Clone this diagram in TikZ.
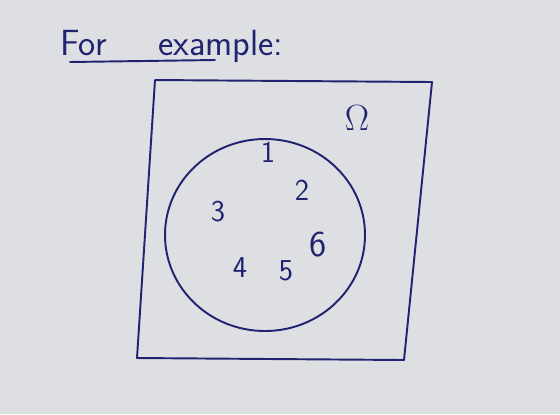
\documentclass[tikz,border=0pt]{standalone}
\usepackage{amsmath}
\usetikzlibrary{positioning}

\definecolor{board}{RGB}{221,223,227}
\definecolor{ink}{RGB}{32,36,112}

\begin{document}
\begin{tikzpicture}[
    x=0.02cm, y=-0.02cm,
    % Estilos de trazos y textos
    pen/.style={draw=ink, line width=1.1pt, line cap=round, line join=round},
    title/.style={text=ink, font=\sffamily\huge, inner sep=0pt},
    elem/.style={text=ink, font=\sffamily\LARGE, inner sep=1pt}
]

% ==========================================
% FONDO (PIZARRA)
% ==========================================
\fill[board] (0,0) rectangle (560,414);
\useasboundingbox (0,0) rectangle (560,414);

% ==========================================
% TITULO
% ==========================================
\node[title, anchor=base west] (tfor) at (60,55) {For};
\node[title, anchor=base west] (tex) at (158,55) {example:};
\coordinate (ul1) at (70,62);
\coordinate (ul2) at (215,60);
\draw[pen] (ul1) -- (ul2);

% ==========================================
% ESPACIO MUESTRAL
% ==========================================
\coordinate (tl) at (155,80);
\coordinate (tr) at (432,82);
\coordinate (br) at (404,360);
\coordinate (bl) at (137,358);
\draw[pen] (tl) -- (tr) -- (br) -- (bl) -- cycle;

\node[elem, font=\huge] (omega) at (357,118) {$\Omega$};

% Circulo con los resultados
\draw[pen] (265,235) ellipse [x radius=100, y radius=96];

\node[elem] (n1) at (268,152) {1};
\node[elem] (n2) at (302,190) {2};
\node[elem] (n3) at (218,212) {3};
\node[elem] (n4) at (240,268) {4};
\node[elem] (n5) at (286,271) {5};
\node[elem, font=\sffamily\huge] (n6) at (318,245) {6};

\end{tikzpicture}
\end{document}
